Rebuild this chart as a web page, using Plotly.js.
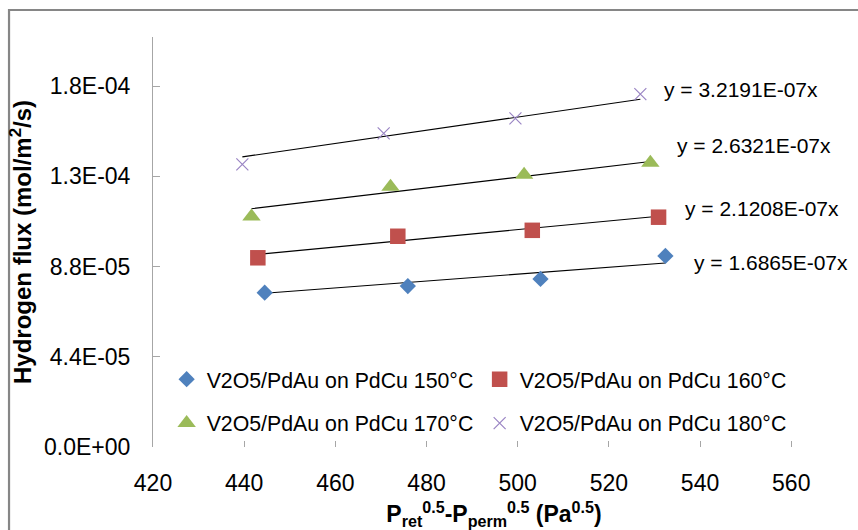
<!DOCTYPE html>
<html>
<head>
<meta charset="utf-8">
<script src="https://cdn.plot.ly/plotly-3.0.1.min.js"></script>
<style>
  html, body { margin: 0; padding: 0; background: #fff; }
  #chart { width: 858px; height: 530px; }
</style>
</head>
<body>
<div id="chart"></div>
<script>
// ---- Data ----
const seriesNames = [
  "V2O5/PdAu on PdCu 150°C",
  "V2O5/PdAu on PdCu 160°C",
  "V2O5/PdAu on PdCu 170°C",
  "V2O5/PdAu on PdCu 180°C"
];
const x150 = [444.5, 475.9, 505.0, 532.4];
const y150 = [7.53e-5, 7.85e-5, 8.20e-5, 9.32e-5];
const x160 = [443.0, 473.7, 503.2, 530.9];
const y160 = [9.23e-5, 1.028e-4, 1.057e-4, 1.121e-4];
const x170 = [441.6, 472.1, 501.4, 529.1];
const y170 = [1.125e-4, 1.269e-4, 1.328e-4, 1.386e-4];
const x180 = [439.6, 470.6, 499.5, 526.9];
const y180 = [1.379e-4, 1.530e-4, 1.603e-4, 1.721e-4];
// trendline slopes (y = k x), as labelled
const slopes = [1.6865e-7, 2.1208e-7, 2.6321e-7, 3.2191e-7];
const slopeLabels = ["y = 1.6865E-07x", "y = 2.1208E-07x", "y = 2.6321E-07x", "y = 3.2191E-07x"];
// axis ticks
const xTicks = [420, 440, 460, 480, 500, 520, 540, 560];
const yTickVals = [0, 4.4e-5, 8.8e-5, 1.32e-4, 1.76e-4];
const yTickText = ["0.0E+00", "4.4E-05", "8.8E-05", "1.3E-04", "1.8E-04"];

// ---- Styling ----
const FONT = '"Liberation Sans", Arial, sans-serif';
const xs = [x150, x160, x170, x180];
const ys = [y150, y160, y170, y180];
const markerStyles = [
  {symbol: 'diamond', size: 12.5, color: '#4F81BD'},
  {symbol: 'square', size: 15.5, color: '#C0504D'},
  {symbol: 'triangle-up', size: 16, color: '#9BBB59'},
  {symbol: 'x-thin', size: 12, color: 'rgba(0,0,0,0)', line: {color: '#9A85C4', width: 1.2}}
];
const legendIds = ['legend', 'legend', 'legend2', 'legend2'];
// label offsets from the last point of each series (pixels)
const labelShift = [[27, -7], [24, 9], [25, 17], [22, 5]];

const traces = [];
for (let i = 0; i < 4; i++) {
  const xmin = Math.min(...xs[i]), xmax = Math.max(...xs[i]);
  traces.push({
    x: [xmin, xmax],
    y: [slopes[i] * xmin, slopes[i] * xmax],
    mode: 'lines',
    line: {color: '#000000', width: 1.1},
    showlegend: false,
    hoverinfo: 'skip'
  });
}
for (let i = 0; i < 4; i++) {
  const ms = markerStyles[i];
  const marker = {symbol: ms.symbol, size: ms.size, color: ms.color};
  if (ms.line) marker.line = ms.line; else marker.line = {width: 0};
  traces.push({
    x: xs[i], y: ys[i],
    mode: 'markers',
    name: seriesNames[i],
    marker: marker,
    legend: legendIds[i],
    cliponaxis: false
  });
}

const annotations = slopeLabels.map((t, i) => ({
  x: xs[i][xs[i].length - 1],
  y: ys[i][ys[i].length - 1],
  xref: 'x', yref: 'y',
  text: t,
  showarrow: false,
  xanchor: 'left', yanchor: 'middle',
  xshift: labelShift[i][0], yshift: labelShift[i][1],
  font: {family: FONT, size: 21, color: '#000'}
}));

const legendBase = {
  orientation: 'h',
  x: 0.02, xanchor: 'left',
  yanchor: 'middle',
  entrywidth: 268, entrywidthmode: 'pixels',
  itemwidth: 30,
  bgcolor: 'rgba(0,0,0,0)', borderwidth: 0,
  font: {family: FONT, size: 21.3, color: '#000'},
  itemclick: false, itemdoubleclick: false
};

const layout = {
  width: 858, height: 530,
  margin: {l: 153, r: 23, t: 37, b: 83, pad: 0},
  paper_bgcolor: '#ffffff',
  plot_bgcolor: '#ffffff',
  font: {family: FONT, size: 21, color: '#000'},
  xaxis: {
    range: [420, 569.6],
    tickvals: xTicks,
    ticktext: xTicks.map(String),
    ticks: 'inside', ticklen: 6, tickwidth: 1, tickcolor: '#A6A6A6',
    showline: false, showgrid: false, zeroline: false,
    ticklabelstandoff: 20,
    tickfont: {family: FONT, size: 23, color: '#000'},
    title: {
      text: '<b>P<sub>ret</sub><sup>0.5</sup>-P<sub>perm</sub><sup>0.5</sup> (Pa<sup>0.5</sup>)</b>',
      font: {family: FONT, size: 23, color: '#000'},
      standoff: 12
    }
  },
  yaxis: {
    range: [0, 2.0e-4],
    tickvals: yTickVals,
    ticktext: yTickText,
    ticks: 'inside', ticklen: 7, tickwidth: 1, tickcolor: '#A6A6A6',
    showline: true, linecolor: '#A6A6A6', linewidth: 1,
    showgrid: false, zeroline: false,
    ticklabelstandoff: 17,
    tickfont: {family: FONT, size: 23, color: '#000'},
    title: {
      text: '<b>Hydrogen flux (mol/m<sup>2</sup>/s)</b>',
      font: {family: FONT, size: 24, color: '#000'},
      standoff: 5
    }
  },
  legend: Object.assign({}, legendBase, {y: 0.165}),
  legend2: Object.assign({}, legendBase, {y: 0.058}),
  annotations: annotations,
  shapes: [{
    type: 'rect', xref: 'paper', yref: 'paper',
    x0: -0.2111, x1: 1.5, y0: -0.3, y1: 1.0659,
    line: {color: '#868686', width: 2.2},
    fillcolor: 'rgba(0,0,0,0)', layer: 'below'
  }],
  showlegend: true
};

Plotly.newPlot('chart', traces, layout, {staticPlot: true, displayModeBar: false});
</script>
</body>
</html>
